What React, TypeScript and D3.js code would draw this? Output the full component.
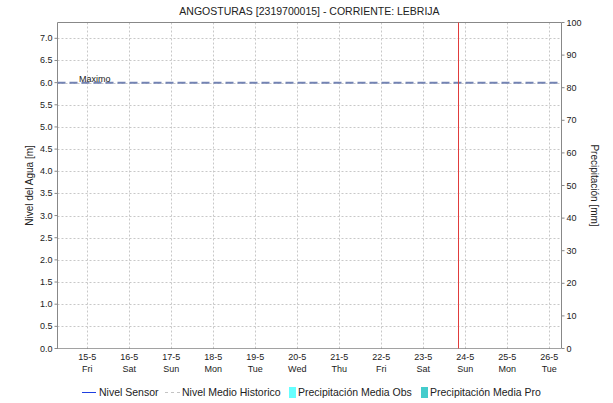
import React from "react";
import * as d3 from "d3";

const title = "ANGOSTURAS [2319700015] - CORRIENTE: LEBRIJA";
const dayDates = ["2020-05-15","2020-05-16","2020-05-17","2020-05-18","2020-05-19","2020-05-20","2020-05-21","2020-05-22","2020-05-23","2020-05-24","2020-05-25","2020-05-26"];
const dayLabels = ["15-5","16-5","17-5","18-5","19-5","20-5","21-5","22-5","23-5","24-5","25-5","26-5"];
const weekdayLabels = ["Fri","Sat","Sun","Mon","Tue","Wed","Thu","Fri","Sat","Sun","Mon","Tue"];
const levelTicks = [0,0.5,1,1.5,2,2.5,3,3.5,4,4.5,5,5.5,6,6.5,7];
const precipTicks = [0,10,20,30,40,50,60,70,80,90,100];
const levelMax = 6.0;
const levelDomain = [0, 7.357];
const precipDomain = [0, 100];
const timeDomain = ["2020-05-14T07:00:00Z", "2020-05-26T07:00:00Z"];
const nowTime = "2020-05-23T20:00:00Z";
const baselineSeries = [
  { t: "2020-05-14T07:00:00Z", v: 0 },
  { t: "2020-05-26T07:00:00Z", v: 0 },
];
const legendItems = [
  { label: "Nivel Sensor", kind: "line", color: "#1f3fe0" },
  { label: "Nivel Medio Historico", kind: "dash", color: "#c4c4c4" },
  { label: "Precipitación Media Obs", kind: "box", color: "#66ffff" },
  { label: "Precipitación Media Pro", kind: "box", color: "#44cccc" },
];

const W = 613, H = 403;
const L = 57.5, R = 561.5, T = 22.5, B = 348.5;
const FONT = "'Liberation Sans', Arial, sans-serif";

export default function App() {
  const x = d3.scaleUtc().domain(timeDomain.map((d) => new Date(d))).range([L, R]);
  const y = d3.scaleLinear().domain(levelDomain).range([B, T]);
  const y2 = d3.scaleLinear().domain(precipDomain).range([B, T]);
  const dayX = (s: string) => x(new Date(s + "T00:00:00Z"));
  const line = d3.line<{ t: string; v: number }>().x((d) => x(new Date(d.t))).y((d) => y(d.v));
  const legendX = [82, 165, 289, 421];

  return (
    <svg width={W} height={H} style={{ position: "absolute", left: 0, top: 0, background: "#fff" }} fontFamily={FONT}>
      <rect x={0} y={0} width={W} height={H} fill="#fff" />
      <text x={(L + R) / 2} y={15} textAnchor="middle" fontSize={10.5} fill="#222">{title}</text>
      {/* grid */}
      {levelTicks.filter((v) => v > 0).map((v) => (
        <line key={"h" + v} x1={L} x2={R} y1={Math.round(y(v)) + 0.5} y2={Math.round(y(v)) + 0.5} stroke="#c8c8c8" strokeDasharray="2,2" />
      ))}
      {dayDates.map((d) => (
        <line key={"v" + d} x1={Math.round(dayX(d)) + 0.5} x2={Math.round(dayX(d)) + 0.5} y1={T} y2={B} stroke="#c8c8c8" strokeDasharray="2,2" />
      ))}
      {/* frame */}
      <line x1={L} x2={R} y1={T} y2={T} stroke="#888" />
      <line x1={L} x2={L} y1={T} y2={B} stroke="#888" />
      <line x1={R} x2={R} y1={T} y2={B} stroke="#888" />
      {/* baseline dotted */}
      <path d={line(baselineSeries) || ""} stroke="#444" strokeDasharray="1,1" fill="none" />
      {/* max line */}
      <line x1={L} x2={R} y1={y(levelMax)} y2={y(levelMax)} stroke="#7383b3" strokeWidth={2} strokeDasharray="8,4" />
      <text x={79} y={y(levelMax) - 0.5} fontSize={9} fill="#222">Maximo</text>
      {/* now line */}
      <line x1={Math.round(x(new Date(nowTime))) + 0.5} x2={Math.round(x(new Date(nowTime))) + 0.5} y1={T} y2={B} stroke="#e03c3c" />
      {/* left axis */}
      {levelTicks.map((v) => (
        <g key={"lt" + v}>
          <line x1={L - 3} x2={L} y1={y(v)} y2={y(v)} stroke="#888" />
          <text x={L - 5} y={y(v) + 3} textAnchor="end" fontSize={9} fill="#222">{v.toFixed(1)}</text>
        </g>
      ))}
      {/* right axis */}
      {precipTicks.map((v) => (
        <g key={"rt" + v}>
          <line x1={R} x2={R + 3} y1={y2(v)} y2={y2(v)} stroke="#888" />
          <text x={R + 5} y={y2(v) + 3} textAnchor="start" fontSize={9} fill="#222">{v}</text>
        </g>
      ))}
      {/* x labels */}
      {dayDates.map((d, i) => (
        <g key={"xl" + d}>
          <text x={dayX(d)} y={360} textAnchor="middle" fontSize={9} fill="#222">{dayLabels[i]}</text>
          <text x={dayX(d)} y={371.5} textAnchor="middle" fontSize={9} fill="#222">{weekdayLabels[i]}</text>
        </g>
      ))}
      {/* axis titles */}
      <text transform={`translate(33,${(T + B) / 2}) rotate(-90)`} textAnchor="middle" fontSize={10} fill="#222">Nivel del Agua [m]</text>
      <text transform={`translate(591,${(T + B) / 2}) rotate(90)`} textAnchor="middle" fontSize={10} fill="#222">Precipitación [mm]</text>
      {/* legend */}
      {legendItems.map((it, i) => {
        const lx = legendX[i];
        return (
          <g key={it.label}>
            {it.kind === "line" && <line x1={lx} x2={lx + 14} y1={392.5} y2={392.5} stroke={it.color} />}
            {it.kind === "dash" && <line x1={lx} x2={lx + 15} y1={392.5} y2={392.5} stroke={it.color} strokeDasharray="3,3" />}
            {it.kind === "box" && <rect x={lx} y={387} width={7} height={11} fill={it.color} />}
            <text x={it.kind === "box" ? lx + 9 : lx + 17} y={396} fontSize={10.5} fill="#222">{it.label}</text>
          </g>
        );
      })}
    </svg>
  );
}
